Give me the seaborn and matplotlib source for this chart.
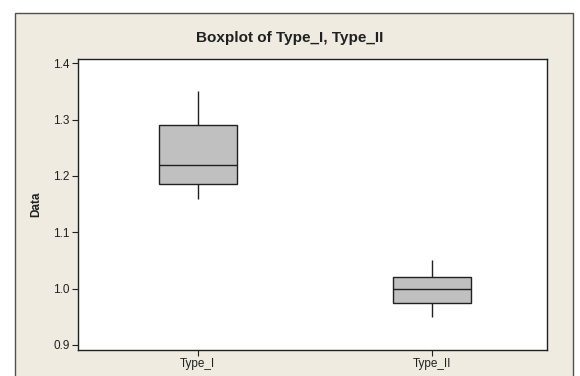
import matplotlib
matplotlib.use("Agg")
import matplotlib.pyplot as plt
from matplotlib.patches import Rectangle
import seaborn as sns
import pandas as pd

# Values (min, Q1, median, Q3, max for each sample)
type_i = [1.16, 1.185, 1.22, 1.29, 1.35]
type_ii = [0.95, 0.975, 1.00, 1.02, 1.05]
categories = ["Type_I", "Type_II"]
y_ticks = [0.9, 1.0, 1.1, 1.2, 1.3, 1.4]

df = pd.DataFrame({
    "group": [categories[0]] * len(type_i) + [categories[1]] * len(type_ii),
    "Data": type_i + type_ii,
})

sns.set_theme(style="white")
plt.rcParams["font.family"] = ["Liberation Sans", "DejaVu Sans"]

fig = plt.figure(figsize=(5.8, 3.76), dpi=100)
fig.patch.set_facecolor("white")
frame = Rectangle((14.5 / 580, -0.05), (573 - 14.5) / 580, 1.05 - 13 / 376,
                  transform=fig.transFigure, facecolor="#EFEBE1",
                  edgecolor="#505050", linewidth=1.0, zorder=-10)
fig.patches.append(frame)

ax = fig.add_axes([78 / 580, 1 - 350 / 376, (547 - 78) / 580, (350 - 59) / 376])
ax.set_zorder(5)
ax.set_facecolor("white")

sns.boxplot(data=df, x="group", y="Data", ax=ax, width=0.333,
            color="#C0C0C0", saturation=1, whis=1.5,
            linecolor="#202020", linewidth=1.0,
            capprops={"visible": False},
            whiskerprops={"color": "#202020", "linewidth": 1.0},
            medianprops={"color": "#202020", "linewidth": 1.0},
            boxprops={"facecolor": "#C0C0C0", "edgecolor": "#202020"})

ax.set_xlim(-0.51, 1.49)
ax.set_ylim(0.891, 1.4077)
ax.set_yticks(y_ticks)
ax.set_yticklabels([f"{v:.1f}" for v in y_ticks])
ax.set_xlabel("")
ax.set_ylabel("Data", fontsize=8.5, fontweight="bold", color="#202020", labelpad=8)
fig.text(0.5, 1 - 38 / 376, "Boxplot of Type_I, Type_II", fontsize=11,
         fontweight="bold", color="#202020", ha="center", va="center")
for s in ax.spines.values():
    s.set_visible(True)
    s.set_color("#202020")
    s.set_linewidth(1.0)
ax.tick_params(axis="both", which="both", direction="out", length=4, width=0.8,
               color="#202020", labelsize=8.5, labelcolor="#202020",
               left=True, bottom=True, pad=2)

fig.savefig("out.png", dpi=100)
